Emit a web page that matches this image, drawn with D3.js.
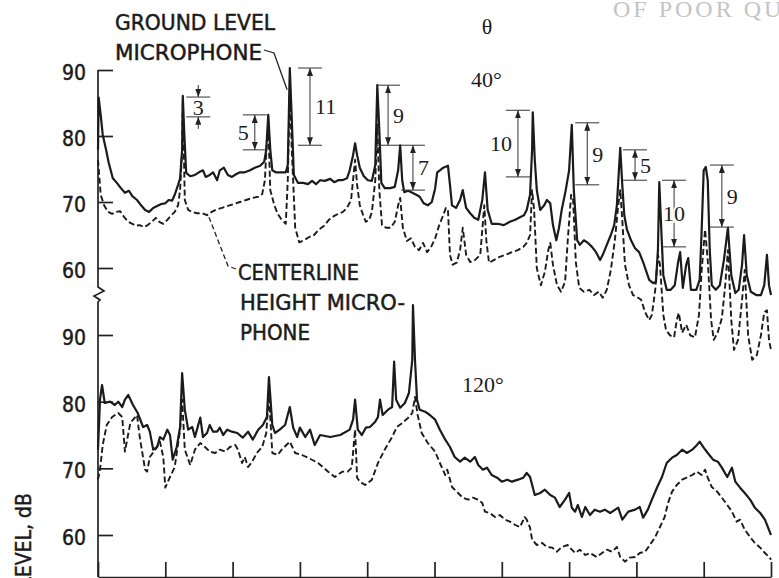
<!doctype html>
<html>
<head>
	<meta charset="utf-8">
	<title>Narrowband spectra, ground level vs centerline microphone</title>
	<style>
		body { margin: 0; background: #fff; }
		svg { display: block; background: #fff; }

		.solid { fill: none; stroke: #1b1b1b; stroke-width: 2.2; stroke-linejoin: round; }
		.dashed { fill: none; stroke: #1b1b1b; stroke-width: 1.9; stroke-dasharray: 6,3; stroke-linejoin: round; }

		.axis line, .axis path, .axis-line { stroke: #222; stroke-width: 1.7; fill: none; }
		.axis text, .lbl {
			font-family: "DejaVu Sans Condensed", "Liberation Sans Narrow", "DejaVu Sans", sans-serif;
			font-stretch: condensed;
			font-size: 21px;
			fill: #1b1b1b;
			stroke: #1b1b1b;
			stroke-width: 0.45;
		}
		.num { font-family: "Liberation Serif", "DejaVu Serif", serif; font-size: 22px; fill: #1b1b1b; }
		.dim { stroke: #333; stroke-width: 1; fill: none; }
		.leader { stroke: #222; stroke-width: 1.3; fill: none; }
		.mark { font-family: "Liberation Serif", serif; font-size: 24px; fill: #c4c4c4; letter-spacing: 3px; }
	</style>
</head>
<body>

	<svg width="779" height="578"></svg>

	<script src="https://d3js.org/d3.v7.min.js"></script>
	<script>

		// ---- data: [frequency (0-100 of range), level dB] ----

		// theta = 40 deg, ground level microphone (solid)
		const g40 = [
			[0,77.9],[0.1,85.8],[0.4,83.2],[0.7,80.2],[1.2,77.9],[1.6,75.9],[2.2,73.6],[2.8,72.9],[3.4,72.1],[4.0,71.4],
			[4.6,71.7],[5.1,70.9],[5.8,70.3],[6.4,69.5],[7.0,68.8],[7.6,68.5],[8.2,69.1],[8.8,69.4],[9.4,69.7],[10.0,69.8],
			[10.5,70.3],[11.0,70.2],[11.4,71.1],[11.9,72.6],[12.2,73.6],[12.5,77.9],[12.6,86.1],[12.8,80.9],[13.1,74.4],[13.7,73.9],
			[14.4,74.1],[15.0,74.5],[15.6,74.8],[16.0,73.8],[16.6,74.1],[17.1,74.5],[17.7,73.3],[18.1,74.8],[18.7,75.2],[19.3,74.1],
			[19.9,73.8],[20.5,74.2],[21.1,74.5],[21.8,74.5],[22.6,74.8],[23.3,75.2],[24.1,75.5],[24.7,76.1],[25.0,77.9],[25.3,83.2],
			[25.6,77.9],[25.9,74.8],[26.4,74.5],[27.2,74.5],[27.9,74.5],[28.2,75.6],[28.5,90.3],[28.8,82.4],[29.1,74.1],[29.7,72.9],
			[30.5,72.9],[31.2,72.7],[31.8,73.2],[32.4,72.7],[33.0,73.3],[33.7,73.2],[34.5,73.5],[35.1,73.0],[35.7,73.3],[36.3,73.3],
			[37.0,73.6],[37.4,74.8],[37.9,77.1],[38.2,78.9],[38.5,77.1],[38.9,75.2],[39.5,73.9],[40.1,73.3],[40.7,73.2],[41.2,75.6],
			[41.5,87.7],[41.8,80.9],[42.1,72.9],[42.6,72.1],[43.4,72.1],[44.1,72.3],[44.6,74.8],[44.9,78.6],[45.2,73.3],[45.5,71.5],
			[46.1,71.7],[46.7,71.4],[47.3,71.1],[47.8,70.8],[48.4,69.8],[49.0,69.5],[49.6,70.0],[50.1,72.1],[50.4,74.5],[50.8,74.8],
			[51.3,75.2],[52.0,75.5],[52.3,72.6],[52.6,69.5],[53.2,69.1],[53.8,70.3],[54.2,71.8],[54.7,69.1],[55.3,68.3],[55.9,67.6],
			[56.5,67.3],[57.1,70.3],[57.5,74.5],[57.9,68.8],[58.5,66.7],[59.4,66.7],[60.3,66.5],[61.2,67.0],[62.0,67.3],[62.7,67.7],
			[63.3,68.0],[63.7,68.8],[64.2,71.1],[64.5,77.9],[64.6,83.6],[64.9,76.4],[65.2,71.8],[65.7,68.8],[66.3,69.5],[66.7,70.3],
			[67.2,69.8],[67.6,66.5],[68.1,64.2],[68.5,66.1],[68.9,68.8],[69.5,71.8],[70.0,74.8],[70.4,81.7],[70.7,71.8],[71.2,64.2],
			[71.6,63.5],[72.2,64.2],[72.8,63.8],[73.4,63.2],[74.0,62.4],[74.6,61.2],[75.0,62.0],[75.6,63.5],[76.2,65.0],[76.7,66.5],
			[77.1,69.5],[77.4,74.8],[77.6,78.2],[77.9,72.6],[78.2,68.0],[78.6,65.8],[79.2,64.2],[79.8,63.0],[80.4,62.4],[81.0,60.9],
			[81.4,59.7],[81.9,58.2],[82.5,57.7],[82.9,57.9],[83.2,62.7],[83.4,73.0],[83.7,65.8],[84.0,58.9],[84.5,56.7],[85.1,56.7],
			[85.7,57.4],[86.2,60.9],[86.5,62.4],[86.9,57.0],[87.4,60.5],[87.7,61.5],[88.1,56.7],[88.9,56.7],[89.4,58.2],[89.7,65.8],
			[90.0,74.8],[90.3,75.3],[90.6,73.3],[90.9,62.7],[91.2,57.4],[91.8,56.7],[92.4,57.4],[93.0,61.2],[93.6,66.1],[94.1,58.9],
			[94.7,56.2],[95.2,56.7],[95.7,60.5],[96.0,65.0],[96.4,58.9],[97.0,56.4],[97.8,55.9],[98.5,55.9],[99.0,57.4],[99.4,62.0],
			[99.7,57.4],[100,55.9]
		];

		// theta = 40 deg, centerline height microphone (dashed)
		const c40 = [
			[0,76.4],[0.4,71.1],[0.9,69.5],[1.5,68.5],[2.1,68.2],[2.7,68.5],[3.3,68.6],[3.9,67.7],[4.5,67.0],[5.1,66.7],
			[5.6,66.4],[6.2,66.5],[6.8,66.2],[7.4,66.5],[8.0,67.0],[8.6,67.6],[9.1,67.0],[9.7,66.7],[10.3,67.3],[10.8,67.9],
			[11.4,68.5],[11.9,69.5],[12.2,71.8],[12.5,77.9],[12.6,85.5],[12.9,70.3],[13.4,68.8],[14.0,68.5],[14.7,68.3],[15.5,68.3],
			[16.2,68.0],[16.9,68.5],[17.7,68.9],[18.4,69.1],[19.3,69.4],[20.2,69.7],[21.1,70.0],[22.0,70.3],[22.9,70.6],[23.8,70.8],
			[24.4,71.2],[24.8,73.3],[25.1,79.4],[25.3,81.7],[25.6,71.8],[26.2,69.5],[26.7,68.2],[27.3,67.3],[27.9,66.7],[28.2,73.3],
			[28.5,87.0],[28.8,77.9],[29.3,66.1],[29.9,63.9],[30.6,64.2],[31.4,64.7],[32.1,65.0],[32.8,65.8],[33.6,66.4],[34.3,67.3],
			[35.1,67.9],[35.7,68.2],[36.4,68.5],[37.0,69.1],[37.6,70.3],[37.9,73.3],[38.2,76.4],[38.5,72.6],[38.9,69.5],[39.4,68.0],
			[39.8,67.0],[40.3,67.3],[40.7,68.5],[41.2,73.3],[41.5,81.7],[41.8,71.8],[42.2,66.5],[42.8,66.1],[43.5,66.1],[44.1,67.0],
			[44.6,69.5],[44.9,70.6],[45.3,66.1],[45.9,64.1],[46.5,64.5],[47.1,63.2],[47.7,62.7],[48.3,63.8],[48.9,62.4],[49.5,63.2],
			[50.1,64.5],[50.7,66.5],[51.3,68.0],[51.7,69.1],[52.0,68.8],[52.3,62.0],[52.7,60.5],[53.3,60.8],[53.8,62.7],[54.2,66.1],
			[54.7,62.0],[55.3,60.9],[56.0,61.2],[56.8,62.0],[57.4,69.5],[57.7,64.2],[58.1,60.8],[58.8,61.2],[59.7,61.7],[60.6,62.0],
			[61.5,62.4],[62.4,62.7],[63.2,63.2],[63.7,63.8],[64.2,65.0],[64.5,71.8],[64.8,68.8],[65.2,60.0],[65.8,57.4],[66.4,59.4],
			[66.9,62.7],[67.2,63.8],[67.6,60.5],[68.2,57.4],[68.8,56.4],[69.4,57.9],[69.8,64.2],[70.3,71.1],[70.6,70.3],[71.0,60.9],
			[71.5,57.0],[72.2,56.4],[73.0,56.7],[73.7,55.9],[74.4,56.4],[75.0,55.5],[75.6,56.7],[76.2,59.7],[76.8,64.2],[77.3,69.5],
			[77.6,71.8],[77.9,67.3],[78.3,60.5],[78.9,57.4],[79.5,55.9],[80.1,55.6],[80.7,55.2],[81.3,53.3],[81.9,52.1],[82.3,52.9],
			[82.8,56.7],[83.2,62.0],[83.5,60.5],[84.0,52.9],[84.4,50.6],[85.0,49.8],[85.6,49.5],[86.0,52.1],[86.3,53.2],[86.8,50.2],
			[87.4,51.4],[88.0,49.8],[88.7,49.5],[89.3,52.9],[89.7,59.7],[90.2,65.8],[90.6,61.2],[91.1,52.1],[91.5,49.1],[92.1,50.3],
			[92.7,52.4],[93.2,57.4],[93.6,62.7],[94.1,52.1],[94.5,47.6],[95.1,49.1],[95.7,55.2],[96.1,59.7],[96.6,49.8],[97.2,46.1],
			[97.9,46.8],[98.5,49.8],[99.0,53.3],[99.4,53.6],[99.7,49.1],[100,47.6]
		];

		// theta = 120 deg, ground level microphone (solid)
		const g120 = [
			[0,72.8],[0.3,80.3],[0.6,82.5],[1.0,79.8],[1.8,80.0],[2.5,79.5],[3.0,80.0],[3.6,79.2],[4.0,80.3],[4.5,81.0],
			[5.2,79.5],[5.9,78.3],[6.7,76.2],[7.3,76.5],[7.7,75.5],[8.2,72.8],[8.8,73.2],[9.2,74.7],[9.7,74.3],[10.3,75.8],
			[10.7,75.0],[11.1,71.3],[11.7,73.2],[12.2,76.2],[12.5,84.3],[12.9,78.8],[13.4,75.8],[14.0,76.2],[14.4,74.7],[15.2,77.6],
			[15.6,74.7],[16.2,75.3],[16.6,76.5],[17.1,75.5],[17.7,75.5],[18.1,76.1],[18.6,75.0],[19.2,75.8],[19.9,75.5],[20.7,75.3],
			[21.5,74.6],[22.3,75.5],[23.0,74.3],[23.8,75.8],[24.5,76.5],[25.1,77.7],[25.4,83.7],[25.9,76.5],[26.3,75.3],[27.0,75.8],
			[27.8,76.5],[28.5,79.2],[29.0,76.1],[29.6,74.7],[30.0,76.1],[30.8,74.7],[31.5,75.8],[32.2,73.5],[33.0,75.0],[34.5,74.7],
			[36.0,75.0],[37.4,75.8],[37.9,77.3],[38.2,80.3],[38.6,75.8],[39.2,75.0],[39.8,76.1],[40.4,76.2],[41.2,77.0],[41.6,77.7],
			[41.9,80.3],[42.3,78.0],[43.1,78.8],[43.7,79.2],[44.0,86.0],[44.3,80.3],[44.9,79.1],[45.6,79.8],[46.2,81.3],[46.7,86.3],
			[46.8,94.5],[47.1,86.3],[47.4,80.3],[47.8,78.8],[48.6,78.5],[49.3,78.0],[50.1,77.3],[50.8,75.8],[51.6,74.3],[52.3,73.2],
			[53.0,71.7],[53.8,71.0],[54.5,71.6],[55.3,71.0],[56.0,71.7],[56.5,70.5],[57.2,69.8],[57.8,70.1],[58.5,69.0],[59.3,68.6],
			[60.0,68.0],[60.8,68.3],[61.5,68.0],[62.4,68.3],[63.2,68.6],[63.7,69.3],[64.2,68.7],[64.9,66.0],[65.7,66.3],[66.4,66.8],
			[67.2,66.0],[67.9,65.6],[68.6,64.2],[69.4,65.3],[70.0,66.3],[70.4,64.1],[70.9,63.5],[71.3,64.5],[71.9,62.7],[72.4,64.2],
			[73.1,63.0],[73.8,63.8],[74.6,63.5],[75.3,63.8],[76.1,63.3],[77.3,64.1],[77.9,62.3],[78.8,63.5],[79.8,63.8],[80.5,64.2],
			[81.0,62.6],[81.7,63.8],[82.3,65.3],[83.1,67.2],[83.8,68.7],[84.5,70.8],[85.3,71.6],[86.0,72.0],[86.8,72.8],[87.5,72.3],
			[88.3,72.8],[89.0,73.5],[89.4,74.0],[90.0,73.1],[90.6,72.3],[91.4,71.3],[92.1,71.0],[92.7,70.1],[93.5,68.7],[94.2,70.1],
			[94.7,68.0],[95.4,67.1],[96.1,66.3],[96.9,65.3],[97.6,64.1],[98.4,63.3],[99.1,62.3],[99.8,60.5],[100,60.0]
		];

		// theta = 120 deg, centerline height microphone (dashed)
		const c120 = [
			[0,68.3],[0.3,69.8],[0.7,73.5],[1.3,76.5],[2.1,77.7],[3.0,78.3],[3.6,77.7],[4.0,72.5],[4.8,76.8],[5.8,78.0],
			[6.2,74.7],[7.0,69.8],[7.3,69.5],[7.7,71.7],[8.5,72.8],[9.2,74.0],[9.7,71.7],[10.0,67.1],[10.7,68.7],[11.4,70.2],
			[12.2,75.8],[12.5,80.3],[12.9,72.8],[13.7,70.5],[14.4,72.8],[15.2,73.8],[15.9,73.2],[16.6,72.5],[17.4,72.3],[18.1,72.8],
			[18.9,72.5],[19.6,73.2],[20.4,73.5],[20.8,72.8],[21.4,70.8],[21.8,71.7],[22.3,70.2],[22.9,71.0],[23.6,72.3],[24.4,73.2],
			[25.0,75.3],[25.4,81.0],[25.9,72.3],[26.7,72.0],[27.3,72.8],[28.5,74.0],[29.3,72.3],[30.3,72.0],[31.2,71.6],[32.7,70.8],
			[34.2,69.5],[35.2,68.7],[36.3,69.5],[37.1,69.5],[37.7,70.1],[38.2,75.8],[38.5,68.6],[38.9,68.0],[39.7,67.5],[40.7,68.3],
			[41.6,70.8],[42.6,72.8],[43.7,74.7],[44.4,76.2],[45.2,76.8],[46.1,77.6],[46.7,78.3],[47.1,80.7],[47.5,78.0],[48.1,75.3],
			[49.0,73.8],[50.1,72.5],[50.8,70.8],[51.6,69.0],[51.9,69.8],[52.6,67.2],[53.5,66.3],[54.2,65.6],[55.0,65.3],[55.7,65.6],
			[56.5,65.3],[57.1,64.8],[57.5,63.5],[58.2,63.3],[59.0,62.7],[59.7,63.0],[60.5,62.3],[61.2,62.0],[62.0,61.5],[62.7,61.2],
			[63.4,62.7],[63.7,62.3],[64.2,61.1],[64.5,59.3],[65.2,58.5],[66.0,58.8],[66.7,58.2],[67.5,58.1],[68.2,57.5],[68.9,58.2],
			[69.8,58.5],[70.4,57.8],[70.9,57.3],[71.6,57.8],[72.4,57.0],[73.1,57.3],[74.1,56.7],[74.9,57.3],[75.6,57.8],[76.4,57.5],
			[77.1,58.2],[77.6,56.7],[78.3,56.0],[79.0,56.6],[79.8,56.7],[80.5,57.3],[81.3,57.5],[82.0,58.5],[82.8,59.7],[83.5,61.2],
			[84.2,62.7],[84.7,64.8],[85.3,66.5],[86.0,67.5],[86.8,68.3],[87.7,68.7],[88.3,69.0],[89.0,69.5],[89.7,69.0],[90.2,69.8],
			[90.6,68.6],[91.2,67.2],[92.0,66.5],[92.7,65.6],[93.5,64.5],[94.2,63.5],[94.9,62.0],[95.4,62.3],[96.1,60.8],[96.9,59.7],
			[97.6,58.8],[98.4,58.1],[99.1,57.3],[99.8,56.6],[100,56.3]
		];

		// level differences marked on the 40 deg spectra: frequency, upper dB, lower dB
		const diffs = [
			{ f: 14.9, hi: 85.9, lo: 82.9, label: "3",  side: "outside" },
			{ f: 23.3, hi: 83.2, lo: 77.9, label: "5",  side: "left" },
			{ f: 31.5, hi: 90.3, lo: 78.6, label: "11", side: "right" },
			{ f: 43.1, hi: 87.7, lo: 78.6, label: "9",  side: "right" },
			{ f: 46.8, hi: 78.6, lo: 71.8, label: "7",  side: "right" },
			{ f: 62.4, hi: 83.9, lo: 73.8, label: "10", side: "left" },
			{ f: 72.7, hi: 82.0, lo: 72.6, label: "9",  side: "right" },
			{ f: 79.8, hi: 77.9, lo: 73.3, label: "5",  side: "right" },
			{ f: 85.6, hi: 73.3, lo: 63.2, label: "10", side: "center" },
			{ f: 92.7, hi: 75.6, lo: 66.2, label: "9",  side: "right" }
		];

		const yTicks = [ 60, 70, 80, 90 ];
		const xTicks = [ 0, 10, 20, 30, 40, 50, 60, 70, 80, 90, 100 ];

		// ---- scales ----
		const svg = d3.select( "svg" );

		const x = d3.scaleLinear().domain( [ 0, 100 ] ).range( [ 98, 771 ] );
		const yTop = d3.scaleLinear().domain( [ 60, 90 ] ).range( [ 268, 70 ] );
		const yBot = d3.scaleLinear().domain( [ 60, 90 ] ).range( [ 535, 335 ] );
		const baseY = 577;

		// arrow head
		svg.append( "defs" ).append( "marker" )
			.attr( "id", "ah" )
			.attr( "viewBox", "0 0 8 6" )
			.attr( "refX", 8 ).attr( "refY", 3 )
			.attr( "markerWidth", 8 ).attr( "markerHeight", 6 )
			.attr( "markerUnits", "userSpaceOnUse" )
			.attr( "orient", "auto-start-reverse" )
			.append( "path" ).attr( "d", "M0,0 L8,3 L0,6 Z" ).attr( "fill", "#222" );

		// watermark from the scanned page (cut by the page edge, as in the scan)
		svg.append( "text" ).attr( "class", "mark" )
			.attr( "x", 613 ).attr( "y", 17 )
			.text( "OF POOR QUALITY" );

		// ---- axes ----
		const yAxisTop = svg.append( "g" ).attr( "class", "axis" )
			.attr( "transform", "translate(" + x( 0 ) + ",0)" )
			.call( d3.axisLeft( yTop ).tickValues( yTicks ).tickSize( -15 ).tickPadding( 12 ) );
		yAxisTop.select( ".domain" ).remove();

		const yAxisBot = svg.append( "g" ).attr( "class", "axis" )
			.attr( "transform", "translate(" + x( 0 ) + ",0)" )
			.call( d3.axisLeft( yBot ).tickValues( yTicks ).tickSize( -15 ).tickPadding( 12 ) );
		yAxisBot.select( ".domain" ).remove();

		svg.selectAll( ".axis text" ).attr( "dy", "0.45em" );

		// vertical axis line with a break between the two panels
		const x0 = x( 0 ), brk = yTop( 60 ) + 19;
		svg.append( "path" ).attr( "class", "axis-line" )
			.attr( "d", "M" + x0 + "," + yTop( 90 ) + "V" + brk +
				"l6,4 l-10,5 l6,4 l-2,2 V" + baseY );

		svg.append( "g" ).attr( "class", "axis" )
			.attr( "transform", "translate(0," + baseY + ")" )
			.call( d3.axisBottom( x ).tickValues( xTicks ).tickSize( -15 ).tickSizeOuter( 0 ).tickFormat( "" ) );

		svg.append( "text" ).attr( "class", "lbl" )
			.attr( "transform", "translate(31,493) rotate(-90)" )
			.attr( "text-anchor", "end" )
			.text( "SOUND PRESSURE LEVEL, dB" );

		// ---- spectra ----
		const lineTop = d3.line().x( d => x( d[0] ) ).y( d => yTop( d[1] ) );
		const lineBot = d3.line().x( d => x( d[0] ) ).y( d => yBot( d[1] ) );

		svg.append( "path" ).attr( "class", "dashed" ).attr( "d", lineTop( c40 ) );
		svg.append( "path" ).attr( "class", "solid" ).attr( "d", lineTop( g40 ) );
		svg.append( "path" ).attr( "class", "dashed" ).attr( "d", lineBot( c120 ) );
		svg.append( "path" ).attr( "class", "solid" ).attr( "d", lineBot( g120 ) );

		// ---- level difference brackets ----
		const dim = svg.append( "g" );
		diffs.forEach( d => {
			const px = x( d.f ), y1 = yTop( d.hi ), y2 = yTop( d.lo );
			dim.append( "line" ).attr( "class", "dim" )
				.attr( "x1", px - 12 ).attr( "x2", px + 12 ).attr( "y1", y1 ).attr( "y2", y1 );
			dim.append( "line" ).attr( "class", "dim" )
				.attr( "x1", px - 12 ).attr( "x2", px + 12 ).attr( "y1", y2 ).attr( "y2", y2 );
			if ( d.side === "outside" ) {
				dim.append( "line" ).attr( "class", "dim" ).attr( "marker-end", "url(#ah)" )
					.attr( "x1", px ).attr( "x2", px ).attr( "y1", y1 - 12 ).attr( "y2", y1 );
				dim.append( "line" ).attr( "class", "dim" ).attr( "marker-end", "url(#ah)" )
					.attr( "x1", px ).attr( "x2", px ).attr( "y1", y2 + 12 ).attr( "y2", y2 );
			} else {
				dim.append( "line" ).attr( "class", "dim" )
					.attr( "marker-start", "url(#ah)" ).attr( "marker-end", "url(#ah)" )
					.attr( "x1", px ).attr( "x2", px ).attr( "y1", y1 ).attr( "y2", y2 );
			}
			const t = dim.append( "text" ).attr( "class", "num" )
				.attr( "y", ( y1 + y2 ) / 2 ).attr( "dy", "0.35em" )
				.text( d.label );
			if ( d.side === "left" ) t.attr( "x", px - 6 ).attr( "text-anchor", "end" );
			else if ( d.side === "right" ) t.attr( "x", px + 5 ).attr( "text-anchor", "start" );
			else {
				t.attr( "x", px ).attr( "text-anchor", "middle" );
				if ( d.side === "center" )
					t.attr( "stroke", "#fff" ).attr( "stroke-width", 4 ).attr( "paint-order", "stroke" );
			}
		});

		// ---- labels ----
		svg.append( "text" ).attr( "class", "lbl" ).attr( "x", 115 ).attr( "y", 30 )
			.attr( "textLength", 160 ).attr( "lengthAdjust", "spacingAndGlyphs" ).text( "GROUND LEVEL" );
		svg.append( "text" ).attr( "class", "lbl" ).attr( "x", 115 ).attr( "y", 60 )
			.attr( "textLength", 147 ).attr( "lengthAdjust", "spacingAndGlyphs" ).text( "MICROPHONE" );
		svg.append( "path" ).attr( "class", "leader" )
			.attr( "d", "M264,50 L274,53 L" + x( 28.1 ) + "," + yTop( 87 ) );

		svg.append( "text" ).attr( "class", "lbl" ).attr( "x", 238 ).attr( "y", 280 )
			.attr( "textLength", 121 ).attr( "lengthAdjust", "spacingAndGlyphs" ).text( "CENTERLINE" );
		svg.append( "text" ).attr( "class", "lbl" ).attr( "x", 240 ).attr( "y", 310 )
			.attr( "textLength", 165 ).attr( "lengthAdjust", "spacingAndGlyphs" ).text( "HEIGHT MICRO-" );
		svg.append( "text" ).attr( "class", "lbl" ).attr( "x", 240 ).attr( "y", 340 )
			.attr( "textLength", 70 ).attr( "lengthAdjust", "spacingAndGlyphs" ).text( "PHONE" );
		svg.append( "path" ).attr( "class", "leader" ).attr( "stroke-dasharray", "5,3" )
			.attr( "d", "M236,269 L228,266 L" + x( 16.3 ) + "," + yTop( 68.2 ) );

		svg.append( "text" ).attr( "class", "num" ).attr( "x", 487 ).attr( "y", 34 )
			.attr( "text-anchor", "middle" ).attr( "font-size", 21 ).text( "θ" );
		svg.append( "text" ).attr( "class", "num" ).attr( "x", 471 ).attr( "y", 87 )
			.attr( "font-size", 22 ).text( "40°" );
		svg.append( "text" ).attr( "class", "num" ).attr( "x", 462 ).attr( "y", 392 )
			.attr( "font-size", 21 ).text( "120°" );

	</script>

</body>
</html>
